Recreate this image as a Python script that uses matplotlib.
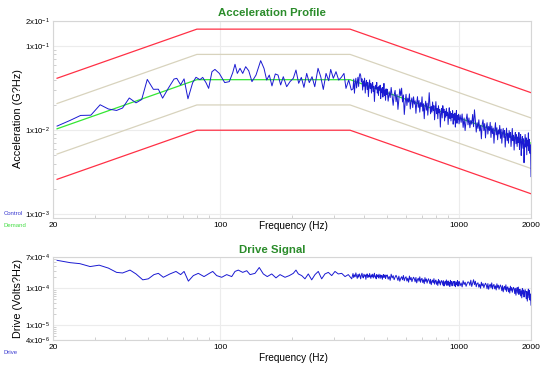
import numpy as np
import matplotlib
matplotlib.use("Agg")
import matplotlib.pyplot as plt
from matplotlib.ticker import LogLocator, NullFormatter

plt.rcParams['font.family'] = ['Liberation Sans', 'DejaVu Sans']
plt.rcParams['mathtext.fontset'] = 'custom'
plt.rcParams['mathtext.rm'] = 'Liberation Sans'
plt.rcParams['mathtext.it'] = 'Liberation Sans:italic'
plt.rcParams['mathtext.bf'] = 'Liberation Sans:bold'

# ---------------- data ----------------
# test profile breakpoints (Hz) and levels (G^2/Hz)
profile_freq = [20.8, 80, 350, 2000]
demand = [0.0104, 0.04, 0.04, 0.007]
alarm_hi = [0.0208, 0.08, 0.08, 0.014]
alarm_lo = [0.0052, 0.02, 0.02, 0.0035]
abort_hi = [0.0416, 0.16, 0.16, 0.028]
abort_lo = [0.0026, 0.01, 0.01, 0.00175]

# control spectrum, low band (read point by point)
ctrl_lo_freq = [20.8, 23.6, 26.1, 28.8, 31.5, 34.1, 36.9, 39.1, 41.7, 44.5,
                47.0, 49.6, 52.6, 55.2, 57.5, 60.7, 64.2, 65.9, 68.4, 70.7,
                73.4, 76.8, 79.3, 82.4, 84.6, 87.3, 89.6, 92.5, 95.2, 99.3,
                104.6, 109.3, 113.0, 115.5, 118.1, 121.2, 124.4, 128.0, 131.8, 136.0,
                141.4, 147.9, 152.7, 156.7, 160.7, 164.9, 170.3, 174.8, 179.3, 183.9,
                190.0, 196.2, 202.5, 207.8, 213.3, 218.8, 224.4, 230.4, 236.2, 242.6,
                249.0, 257.0, 263.8, 270.4, 277.6, 284.8, 290.4, 297.8, 305.6, 313.6,
                321.6, 330.0, 336.4, 345.4, 354.2]
ctrl_lo_val = [.0112, .0131, .0150, .0151, .0201, .0179, .0172, .0184, .0242, .0212,
               .0232, .0403, .0307, .0308, .0241, .0315, .0407, .0415, .0347, .0409,
               .0237, .0368, .0427, .0400, .0426, .0369, .0315, .0498, .0530, .0475,
               .0369, .0379, .0485, .0610, .0475, .0546, .0475, .0571, .0511, .0379,
               .0454, .0674, .0546, .0396, .0454, .0337, .0468, .0454, .0346, .0434,
               .0330, .0379, .0415, .0521, .0362, .0426, .0324, .0475, .0369, .0434,
               .0330, .0546, .0434, .0306, .0475, .0389, .0530, .0415, .0498, .0396,
               .0426, .0475, .0315, .0396, .0301]

# analysis line grids for the dense upper band
band_a_freq = np.arange(360, 500, 2.5)
band_b_freq = np.arange(500, 1000, 5)
band_c_freq = np.arange(1000, 2001, 10)

ctrl_a_val = [.0311, .0406, .0276, .0362, .0416, .0319, .0373, .0427, .0332, .0439,
              .0473, .0452, .0377, .0410, .0301, .0387, .0333, .0417, .0277, .0361,
              .0393, .0305, .0371, .0251, .0333, .0398, .0313, .0360, .0277, .0340,
              .0370, .0288, .0334, .0220, .0299, .0344, .0311, .0371, .0277, .0321,
              .0259, .0333, .0301, .0344, .0238, .0311, .0280, .0323, .0248, .0290,
              .0361, .0258, .0300, .0227, .0311, .0267]
ctrl_b_val = [.0308, .0222, .0288, .0245, .0323, .0253, .0198, .0262, .0298, .0218,
              .0267, .0177, .0238, .0310, .0258, .0317, .0217, .0263, .0154, .0212,
              .0268, .0197, .0241, .0216, .0271, .0179, .0222, .0243, .0186, .0250,
              .0205, .0224, .0159, .0211, .0251, .0187, .0226, .0164, .0213, .0191,
              .0250, .0169, .0207, .0137, .0194, .0222, .0173, .0210, .0151, .0197,
              .0280, .0204, .0157, .0192, .0164, .0217, .0171, .0196, .0133, .0176,
              .0219, .0157, .0181, .0137, .0196, .0161, .0177, .0109, .0158, .0182,
              .0140, .0196, .0163, .0178, .0129, .0168, .0143, .0182, .0149, .0164,
              .0117, .0155, .0185, .0138, .0167, .0129, .0158, .0142, .0171, .0118,
              .0155, .0132, .0160, .0109, .0144, .0172, .0121, .0149, .0134, .0155]
ctrl_c_val = [.0119, .0152, .0124, .0156, .0108, .0140, .0099, .0131, .0156, .0116,
              .0140, .0107, .0131, .0118, .0154, .0110, .0175, .0132, .0095, .0123,
              .0105, .0133, .0098, .0114, .0079, .0118, .0133, .0099, .0120, .0081,
              .0108, .0123, .0090, .0111, .0099, .0124, .0082, .0112, .0091, .0106,
              .0070, .0099, .0123, .0088, .0107, .0077, .0101, .0090, .0114, .0080,
              .0103, .0070, .0092, .0105, .0082, .0099, .0063, .0085, .0106, .0075,
              .0092, .0070, .0099, .0082, .0094, .0064, .0084, .0105, .0075, .0087,
              .0058, .0082, .0094, .0069, .0089, .0064, .0083, .0071, .0094, .0059,
              .0078, .0089, .0050, .0073, .0084, .0061, .0079, .0041, .0067, .0089,
              .0063, .0081, .0051, .0076, .0065, .0093, .0057, .0078, .0053, .0067,
              .0028]

# drive spectrum (Volts^2/Hz)
drive_lo_freq = [20.8, 23.6, 25.9, 28.6, 31.2, 34.1, 36.9, 39.1, 42.0, 44.5,
                 47.5, 50.1, 52.9, 55.2, 57.9, 61.7, 65.4, 68.4, 70.7, 73.7,
                 77.3, 81.1, 85.7, 90.2, 93.2, 96.8, 101.6, 106.6, 111.9, 115.5,
                 119.2, 124.4, 129.3, 133.5, 140.0, 145.9, 151.7, 157.6, 164.5, 171.4,
                 178.2, 187.0, 194.9, 202.5, 207.8, 212.6, 219.6, 226.6, 234.0, 241.8,
                 249.6, 257.6, 266.2, 274.8, 283.8, 293.2, 302.6, 312.4, 322.8, 333.4,
                 344.0, 355.6]
drive_lo_val = [5.69e-4, 4.92e-4, 4.63e-4, 3.86e-4, 4.21e-4, 3.51e-4, 2.69e-4, 2.59e-4, 3.10e-4, 2.44e-4,
                1.69e-4, 1.80e-4, 2.34e-4, 2.53e-4, 1.98e-4, 2.44e-4, 2.85e-4, 2.34e-4, 2.85e-4, 1.56e-4,
                2.20e-4, 2.53e-4, 2.07e-4, 2.53e-4, 2.85e-4, 2.20e-4, 1.98e-4, 2.34e-4, 2.07e-4, 2.85e-4,
                3.10e-4, 2.69e-4, 2.98e-4, 2.34e-4, 2.53e-4, 3.64e-4, 2.44e-4, 2.07e-4, 2.44e-4, 1.91e-4,
                2.34e-4, 1.98e-4, 2.20e-4, 2.53e-4, 3.10e-4, 2.44e-4, 2.20e-4, 1.80e-4, 2.44e-4, 1.69e-4,
                2.34e-4, 2.85e-4, 1.80e-4, 2.44e-4, 2.69e-4, 2.20e-4, 2.85e-4, 2.44e-4, 2.53e-4, 2.07e-4,
                2.34e-4, 1.80e-4]
drive_a_val = [2.50e-4, 1.95e-4, 2.30e-4, 2.05e-4, 2.60e-4, 2.15e-4, 1.85e-4, 2.35e-4, 2.00e-4, 2.45e-4,
               2.20e-4, 1.80e-4, 2.25e-4, 2.55e-4, 2.05e-4, 1.90e-4, 2.40e-4, 2.10e-4, 2.30e-4, 1.75e-4,
               2.20e-4, 2.45e-4, 1.95e-4, 2.25e-4, 2.00e-4, 2.50e-4, 2.15e-4, 1.85e-4, 2.30e-4, 2.05e-4,
               2.40e-4, 1.90e-4, 2.20e-4, 2.55e-4, 2.00e-4, 2.15e-4, 1.80e-4, 2.35e-4, 2.05e-4, 2.25e-4,
               1.90e-4, 2.40e-4, 2.10e-4, 1.85e-4, 2.30e-4, 2.00e-4, 2.20e-4, 1.75e-4, 2.15e-4, 2.35e-4,
               1.95e-4, 2.10e-4, 2.30e-4, 1.85e-4, 2.05e-4, 2.20e-4]
drive_b_val = [2.30e-4, 1.76e-4, 2.10e-4, 1.64e-4, 2.40e-4, 1.90e-4, 2.20e-4, 1.70e-4, 2.00e-4, 2.24e-4,
               1.95e-4, 1.63e-4, 2.13e-4, 1.55e-4, 1.85e-4, 2.05e-4, 1.70e-4, 2.22e-4, 1.60e-4, 1.90e-4,
               2.05e-4, 1.57e-4, 1.87e-4, 1.46e-4, 2.14e-4, 1.69e-4, 1.96e-4, 1.51e-4, 1.78e-4, 1.99e-4,
               1.80e-4, 1.50e-4, 1.96e-4, 1.40e-4, 1.70e-4, 1.87e-4, 1.55e-4, 2.04e-4, 1.45e-4, 1.75e-4,
               1.86e-4, 1.43e-4, 1.70e-4, 1.33e-4, 1.94e-4, 1.54e-4, 1.78e-4, 1.38e-4, 1.62e-4, 1.81e-4,
               1.60e-4, 1.34e-4, 1.75e-4, 1.25e-4, 1.52e-4, 1.67e-4, 1.40e-4, 1.82e-4, 1.29e-4, 1.55e-4,
               1.67e-4, 1.28e-4, 1.52e-4, 1.19e-4, 1.74e-4, 1.38e-4, 1.60e-4, 1.23e-4, 1.45e-4, 1.62e-4,
               1.48e-4, 1.23e-4, 1.61e-4, 1.15e-4, 1.40e-4, 1.54e-4, 1.29e-4, 1.68e-4, 1.19e-4, 1.43e-4,
               1.58e-4, 1.21e-4, 1.44e-4, 1.12e-4, 1.64e-4, 1.30e-4, 1.51e-4, 1.16e-4, 1.37e-4, 1.53e-4,
               1.41e-4, 1.18e-4, 1.54e-4, 1.10e-4, 1.34e-4, 1.47e-4, 1.23e-4, 1.61e-4, 1.14e-4, 1.37e-4]
drive_c_val = [1.53e-4, 1.17e-4, 1.40e-4, 1.09e-4, 1.60e-4, 1.26e-4, 1.46e-4, 1.13e-4, 1.33e-4, 1.49e-4,
               1.45e-4, 1.20e-4, 1.65e-4, 1.12e-4, 1.40e-4, 1.70e-4, 1.25e-4, 1.55e-4, 1.10e-4, 1.35e-4,
               1.40e-4, 1.07e-4, 1.28e-4, 1.00e-4, 1.46e-4, 1.16e-4, 1.34e-4, 1.04e-4, 1.22e-4, 1.37e-4,
               1.23e-4, 0.97e-4, 1.34e-4, 0.94e-4, 1.17e-4, 1.29e-4, 1.03e-4, 1.40e-4, 0.96e-4, 1.20e-4,
               1.27e-4, 0.97e-4, 1.16e-4, 0.90e-4, 1.32e-4, 1.05e-4, 1.21e-4, 0.94e-4, 1.10e-4, 1.23e-4,
               1.08e-4, 0.86e-4, 1.18e-4, 0.80e-4, 1.03e-4, 1.13e-4, 0.90e-4, 1.24e-4, 0.82e-4, 1.06e-4,
               1.09e-4, 0.80e-4, 1.00e-4, 0.74e-4, 1.14e-4, 0.88e-4, 1.05e-4, 0.78e-4, 0.95e-4, 1.06e-4,
               0.96e-4, 0.72e-4, 1.00e-4, 0.65e-4, 0.87e-4, 1.04e-4, 0.74e-4, 1.08e-4, 0.68e-4, 0.90e-4,
               0.94e-4, 0.62e-4, 0.86e-4, 0.55e-4, 0.98e-4, 0.70e-4, 0.90e-4, 0.58e-4, 0.80e-4, 0.92e-4,
               0.78e-4, 0.52e-4, 0.82e-4, 0.45e-4, 0.75e-4, 0.95e-4, 0.55e-4, 0.88e-4, 0.48e-4, 0.70e-4,
               0.35e-4]

x_ticks = [20, 100, 1000, 2000]
x_ticklabels = ['20', '100', '1000', '2000']
acc_yticks = [1e-3, 1e-2, 1e-1, 2e-1]
acc_yticklabels = ['1x10$^{-3}$', '1x10$^{-2}$', '1x10$^{-1}$', '2x10$^{-1}$']
drv_yticks = [4e-6, 1e-5, 1e-4, 7e-4]
drv_yticklabels = ['4x10$^{-6}$', '1x10$^{-5}$', '1x10$^{-4}$', '7x10$^{-4}$']

ctrl_freq = np.concatenate([ctrl_lo_freq, band_a_freq, band_b_freq, band_c_freq])
ctrl_val = np.concatenate([ctrl_lo_val, ctrl_a_val, ctrl_b_val, ctrl_c_val])
drive_freq = np.concatenate([drive_lo_freq, band_a_freq, band_b_freq, band_c_freq])
drive_val = np.concatenate([drive_lo_val, drive_a_val, drive_b_val, drive_c_val])

# ---------------- figure ----------------
W, H = 550, 371
fig = plt.figure(figsize=(W / 100, H / 100), dpi=100)
ax1 = fig.add_axes([53 / W, 1 - 218 / H, 478 / W, 197 / H])
ax2 = fig.add_axes([53 / W, 1 - 340 / H, 478 / W, 83 / H])

RED = '#ff3045'
TAN = '#d8d3bd'
GREEN = '#33e633'
BLUE = '#1a1ad2'

ax1.plot(profile_freq, abort_hi, color=RED, lw=0.9)
ax1.plot(profile_freq, abort_lo, color=RED, lw=0.9)
ax1.plot(profile_freq, alarm_hi, color=TAN, lw=0.9)
ax1.plot(profile_freq, alarm_lo, color=TAN, lw=0.9)
ax1.plot(profile_freq, demand, color=GREEN, lw=0.9)
ax1.plot(ctrl_freq, ctrl_val, color=BLUE, lw=0.7)

ax2.plot(drive_freq, drive_val, color=BLUE, lw=0.7)

for ax, ylim, yt, ytl in [(ax1, (9e-4, 0.2), acc_yticks, acc_yticklabels),
                          (ax2, (4e-6, 7e-4), drv_yticks, drv_yticklabels)]:
    ax.set_xscale('log')
    ax.set_yscale('log')
    ax.set_xlim(20, 2000)
    ax.set_ylim(*ylim)
    ax.set_xticks(x_ticks)
    ax.set_xticklabels(x_ticklabels)
    ax.set_yticks(yt)
    ax.set_yticklabels(ytl)
    ax.xaxis.set_minor_locator(LogLocator(base=10, subs=np.arange(2, 10)))
    ax.xaxis.set_minor_formatter(NullFormatter())
    ax.yaxis.set_minor_locator(LogLocator(base=10, subs=np.arange(2, 10)))
    ax.yaxis.set_minor_formatter(NullFormatter())
    ax.tick_params(axis='x', which='major', length=0, pad=3, labelsize=6)
    ax.tick_params(axis='y', which='major', length=0, pad=2.5, labelsize=5.6)
    ax.tick_params(which='minor', length=2, direction='in', color='#c8c8c8', width=0.6)
    ax.grid(True, which='major', color='#ececec', lw=0.8)
    ax.set_axisbelow(True)
    for s in ax.spines.values():
        s.set_color('#d6d6d6')
        s.set_linewidth(0.8)

# titles and labels
fig.text(272 / W, 1 - 13.5 / H, 'Acceleration Profile', color='#2b8c2b',
         fontweight='bold', fontsize=8.2, ha='center', va='center')
fig.text(272 / W, 1 - 250 / H, 'Drive Signal', color='#2b8c2b',
         fontweight='bold', fontsize=8.2, ha='center', va='center')
fig.text(293 / W, 1 - 226 / H, 'Frequency (Hz)', fontsize=7.2, ha='center', va='center')
fig.text(293 / W, 1 - 358 / H, 'Frequency (Hz)', fontsize=7.2, ha='center', va='center')
fig.text(18 / W, 1 - 119 / H, 'Acceleration (G?Hz)', fontsize=7.8, rotation=90,
         ha='center', va='center')
fig.text(18 / W, 1 - 298 / H, 'Drive (Volts?Hz)', fontsize=7.8, rotation=90,
         ha='center', va='center')

# legend texts
fig.text(4 / W, 1 - 214 / H, 'Control', color='#3a3ad0', fontsize=4.3, va='center')
fig.text(4 / W, 1 - 225.5 / H, 'Demand', color='#44dd44', fontsize=4.3, va='center')
fig.text(4 / W, 1 - 353 / H, 'Drive', color='#3a3ad0', fontsize=4.3, va='center')

fig.savefig('out.png', dpi=100)
